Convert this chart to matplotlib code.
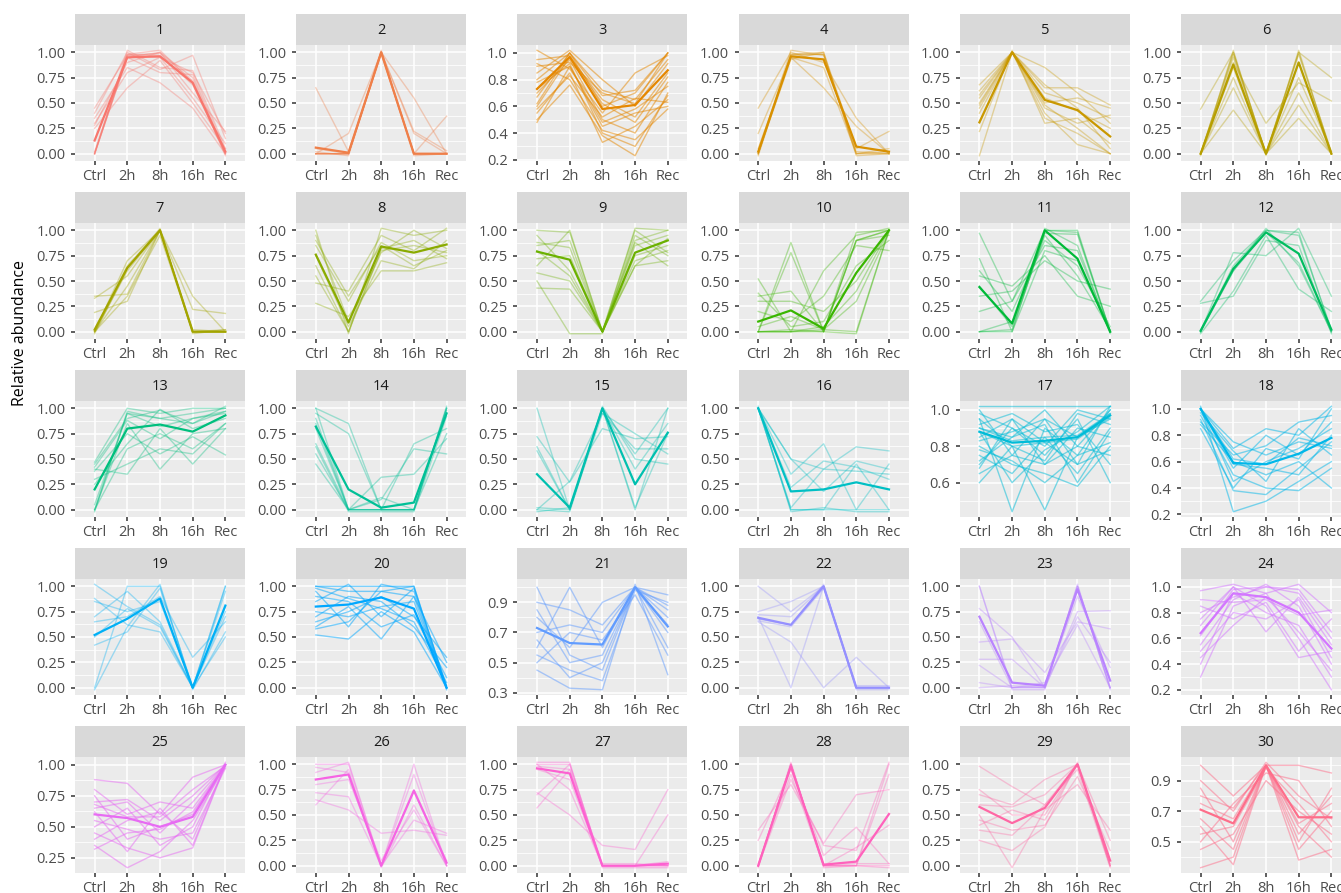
import numpy as np
import matplotlib
matplotlib.use("Agg")
import matplotlib.pyplot as plt

plt.rcParams['font.family'] = ['Open Sans', 'DejaVu Sans']

timepoints = ["Ctrl", "2h", "8h", "16h", "Rec"]

# bold (cluster centre) profile of every cluster
cluster_means = [
    [0.13, 0.95, 0.96, 0.70, 0.02],
    [0.06, 0.01, 1.00, 0.00, 0.00],
    [0.73, 0.97, 0.58, 0.61, 0.87],
    [0.02, 0.96, 0.93, 0.07, 0.02],
    [0.31, 1.00, 0.53, 0.43, 0.17],
    [0.00, 0.88, 0.00, 0.90, 0.00],
    [0.02, 0.63, 1.00, 0.00, 0.00],
    [0.76, 0.09, 0.84, 0.78, 0.86],
    [0.79, 0.71, 0.00, 0.78, 0.90],
    [0.10, 0.21, 0.03, 0.58, 1.00],
    [0.44, 0.08, 1.00, 0.72, 0.00],
    [0.01, 0.62, 0.98, 0.77, 0.02],
    [0.20, 0.80, 0.84, 0.77, 0.93],
    [0.82, 0.20, 0.02, 0.07, 0.95],
    [0.35, 0.02, 1.00, 0.25, 0.76],
    [1.00, 0.18, 0.20, 0.27, 0.20],
    [0.88, 0.82, 0.83, 0.85, 0.97],
    [1.00, 0.59, 0.58, 0.66, 0.78],
    [0.52, 0.68, 0.88, 0.00, 0.81],
    [0.80, 0.82, 0.89, 0.78, 0.00],
    [0.73, 0.63, 0.62, 1.00, 0.74],
    [0.69, 0.62, 1.00, 0.00, 0.00],
    [0.70, 0.05, 0.02, 0.97, 0.07],
    [0.64, 0.95, 0.92, 0.80, 0.52],
    [0.60, 0.57, 0.50, 0.58, 1.00],
    [0.85, 0.90, 0.00, 0.74, 0.03],
    [0.96, 0.91, 0.00, 0.00, 0.02],
    [0.00, 0.98, 0.01, 0.04, 0.51],
    [0.58, 0.42, 0.57, 1.00, 0.05],
    [0.71, 0.62, 1.00, 0.66, 0.66],
]

# individual gene profiles per cluster
g1 = [[0.00, 0.97, 0.99, 0.72, -0.02], [0.00, 0.98, 1.02, 0.70, 0.00], [0.45, 0.97, 0.95, 0.80, 0.20],
      [0.30, 0.80, 0.95, 0.55, 0.10], [0.25, 0.65, 0.92, 0.50, 0.05], [0.40, 1.00, 0.83, 0.97, 0.15],
      [0.00, 0.95, 1.00, 0.75, 0.00], [0.02, 0.98, 0.97, 0.68, 0.00], [0.35, 0.85, 0.70, 0.45, 0.00],
      [0.00, 1.02, 0.85, 0.82, 0.05], [0.28, 0.90, 1.00, 0.60, 0.22], [0.00, 0.95, 0.80, 0.78, 0.02]]
g2 = [[0.65, 0.02, 1.00, 0.00, 0.00], [0.00, 0.20, 1.00, 0.20, 0.00], [0.00, 0.00, 1.00, 0.55, 0.00],
      [0.00, 0.00, 1.00, 0.00, 0.37], [0.05, 0.00, 1.00, 0.22, 0.03], [0.00, 0.00, 1.02, 0.00, 0.00],
      [0.00, 0.00, 1.00, 0.00, 0.00], [0.02, -0.02, 1.00, -0.02, 0.00], [0.00, 0.00, 0.98, 0.00, 0.00]]
g3 = [[0.48, 0.90, 0.45, 0.55, 0.60], [0.55, 0.85, 0.33, 0.45, 0.65], [0.62, 1.00, 0.60, 0.70, 1.00],
      [0.70, 0.95, 0.50, 0.40, 0.78], [0.80, 1.00, 0.72, 0.65, 0.95], [0.90, 0.93, 0.70, 0.62, 1.00],
      [1.02, 0.88, 0.55, 0.85, 0.98], [0.92, 0.80, 0.42, 0.35, 0.58], [0.50, 0.76, 0.38, 0.23, 0.70],
      [0.60, 0.97, 0.65, 0.52, 0.85], [0.85, 1.02, 0.80, 0.60, 0.92], [0.78, 0.90, 0.48, 0.58, 0.75],
      [0.67, 1.00, 0.68, 0.72, 1.00], [0.95, 0.98, 0.62, 0.48, 0.82], [0.58, 0.83, 0.52, 0.66, 0.63],
      [0.73, 0.92, 0.40, 0.30, 0.68]]
g4 = [[0.00, 0.97, 0.98, 0.00, 0.00], [-0.02, 0.98, 1.00, -0.02, 0.00], [0.45, 1.00, 0.90, 0.35, 0.00],
      [0.20, 0.95, 0.65, 0.27, 0.00], [0.00, 0.93, 1.00, 0.05, 0.22], [0.00, 1.02, 0.97, 0.00, 0.05],
      [0.00, 0.98, 0.98, 0.02, 0.00], [0.05, 0.95, 0.85, 0.00, 0.02]]
g5 = [[0.58, 1.00, 0.85, 0.60, 0.30], [0.68, 1.00, 0.65, 0.65, 0.48], [0.45, 1.00, 0.48, 0.25, 0.00],
      [-0.02, 1.00, 0.40, 0.09, 0.00], [0.22, 1.02, 0.30, 0.35, 0.10], [0.50, 1.00, 0.60, 0.50, 0.35],
      [0.40, 1.00, 0.50, 0.55, 0.45], [0.62, 1.00, 0.55, 0.42, 0.25], [0.30, 1.00, 0.35, 0.20, 0.00],
      [0.48, 1.00, 0.45, 0.30, 0.38], [0.55, 1.00, 0.68, 0.45, 0.05]]
g6 = [[0.00, 1.00, 0.00, 1.00, 0.00], [-0.02, 1.02, -0.02, 1.02, 0.00], [0.00, 0.98, 0.00, 0.98, 0.02],
      [0.44, 1.00, 0.00, 1.00, 0.75], [0.00, 0.90, 0.30, 0.70, 0.52], [0.00, 0.65, 0.00, 0.60, 0.00],
      [0.00, 0.43, 0.00, 0.35, 0.00], [0.00, 0.85, 0.00, 0.48, 0.00], [0.00, 0.95, 0.00, 0.75, 0.02],
      [0.00, 0.75, 0.00, 0.90, 0.00]]
g7 = [[0.00, 0.65, 1.00, 0.00, 0.00], [0.00, 0.60, 1.00, 0.00, 0.00], [-0.02, 0.62, 1.02, -0.02, 0.02],
      [0.35, 0.37, 1.00, 0.35, 0.00], [0.19, 0.30, 1.00, 0.22, 0.18], [0.00, 0.45, 1.00, 0.00, 0.00],
      [0.00, 0.70, 1.00, 0.02, 0.00], [0.33, 0.55, 1.00, 0.00, 0.00], [0.00, 0.35, 0.95, 0.00, 0.02]]
g8 = [[1.00, -0.02, 1.02, 0.95, 1.00], [0.90, 0.35, 0.85, 0.65, 0.80], [0.65, 0.00, 0.82, 0.90, 0.72],
      [0.28, 0.15, 0.60, 0.60, 0.68], [0.48, 0.40, 0.95, 0.80, 1.02], [0.55, 0.00, 0.80, 0.85, 0.78],
      [0.85, 0.30, 0.88, 0.70, 0.75], [0.75, 0.05, 0.70, 0.62, 0.90], [0.95, 0.10, 0.78, 1.00, 0.82]]
g9 = [[1.00, 0.98, 0.00, 1.02, 1.00], [0.88, 0.83, 0.00, 0.85, 0.95], [0.43, 0.42, 0.00, 0.65, 0.70],
      [0.50, -0.02, -0.02, 0.95, 0.75], [0.65, 1.00, 0.00, 0.70, 0.80], [0.95, 0.60, 0.00, 0.90, 1.00],
      [0.72, 0.75, 0.00, 0.75, 0.85], [0.58, 0.50, 0.00, 0.88, 0.65], [0.85, 0.90, 0.00, 0.65, 0.92],
      [0.80, 0.55, 0.00, 1.00, 0.78]]
g10 = [[0.00, 0.88, 0.00, 0.90, 1.00], [0.00, 0.78, 0.00, 0.98, 1.00], [0.52, 0.00, 0.05, 0.40, 1.00],
       [0.35, 0.40, 0.00, 0.90, 0.95], [0.00, 0.00, 0.00, -0.02, 1.00], [0.00, 0.00, 0.02, 0.00, 1.00],
       [0.20, 0.10, 0.35, 0.85, 0.80], [0.30, 0.30, 0.20, 0.50, 1.00], [0.00, 0.02, 0.00, 0.90, 1.00],
       [0.05, 0.15, 0.02, 0.30, 0.98], [0.38, 0.05, 0.10, 0.65, 0.90], [0.00, 0.00, 0.60, 0.95, 1.02]]
g11 = [[0.97, 0.30, 1.00, 1.00, 0.00], [0.72, 0.00, 1.00, 0.98, 0.00], [0.00, 0.02, 0.97, 0.96, 0.00],
       [0.00, 0.00, 0.80, 0.70, 0.00], [0.55, 0.45, 0.75, 0.35, 0.25], [0.35, 0.40, 0.70, 0.50, 0.42],
       [0.60, 0.20, 0.90, 0.65, 0.05], [0.20, 0.30, 0.85, 0.80, 0.00], [0.45, 0.05, 0.95, 0.55, 0.02],
       [0.00, 0.10, 1.02, 0.85, -0.02]]
g12 = [[0.30, 0.70, 1.00, 0.98, 0.00], [0.00, 0.60, 0.98, 0.68, 0.00], [0.00, 0.78, 0.75, 1.02, 0.35],
       [-0.02, 0.40, 0.95, 0.42, 0.20], [0.00, 0.65, 1.00, 0.95, 0.02], [0.28, 0.35, 0.90, 0.85, -0.02],
       [0.00, 0.60, 1.02, 0.65, 0.00]]
g13 = [[0.47, 1.00, 0.95, 1.00, 1.00], [0.45, 0.90, 0.98, 0.85, 1.02], [-0.02, 0.97, 0.90, 0.95, 1.00],
       [0.00, 0.85, 0.40, 0.75, 0.80], [0.40, 0.35, 0.80, 0.45, 0.80], [0.30, 0.45, 0.60, 0.55, 0.85],
       [0.00, 0.95, 0.82, 0.90, 0.95], [0.38, 0.75, 0.55, 0.72, 0.54], [0.25, 0.65, 0.99, 0.80, 0.90],
       [0.00, 0.60, 0.75, 0.60, 0.85], [0.42, 0.88, 0.70, 0.90, 0.97], [0.05, 0.95, 0.90, 0.85, 0.97]]
g14 = [[1.00, 0.85, 0.00, 0.00, 1.00], [0.95, 0.75, 0.00, 0.00, 1.00], [0.45, 0.00, 0.00, 0.00, 1.02],
       [0.62, -0.02, -0.02, -0.02, 0.92], [0.80, 0.00, 0.00, 0.00, 1.00], [0.85, 0.00, 0.32, 0.35, 0.70],
       [0.65, 0.00, 0.10, 0.60, 0.55], [0.90, 0.00, 0.00, 0.65, 0.80], [0.55, 0.00, 0.12, 0.00, 0.75],
       [1.00, 0.00, 0.00, 0.00, 0.98]]
g15 = [[1.00, 0.00, 1.00, 0.00, 1.00], [0.72, 0.27, 0.80, 0.70, 0.72], [0.62, 0.00, 1.02, 0.50, 0.45],
       [0.00, -0.02, 1.00, 0.40, 0.85], [0.00, 0.28, 0.95, 0.75, 0.55], [0.02, 0.00, 1.00, 0.55, 1.00],
       [0.58, 0.00, 0.95, 0.60, 0.60], [-0.02, 0.02, 1.00, 0.02, 0.75]]
g16 = [[1.00, 0.00, 0.00, 0.00, 0.00], [1.02, -0.02, 0.02, -0.02, -0.02], [1.00, 0.50, 0.40, 0.62, 0.58],
       [1.00, 0.35, 0.65, 0.00, 0.45], [1.00, 0.22, 0.48, 0.42, 0.30], [1.00, 0.02, 0.40, 0.38, 0.35],
       [1.00, 0.50, 0.18, 0.48, 0.40], [1.00, 0.00, 0.00, 0.45, 0.00]]
g17 = [[1.02, 1.02, 1.02, 1.02, 1.02], [0.60, 0.80, 0.45, 0.85, 0.95], [0.95, 0.44, 0.90, 0.75, 1.00],
       [0.80, 0.70, 0.65, 0.58, 0.80], [0.70, 0.90, 0.75, 0.95, 0.60], [1.00, 0.75, 0.95, 0.70, 1.02],
       [0.85, 0.95, 0.70, 0.90, 0.85], [0.75, 0.65, 0.85, 0.65, 0.90], [0.90, 0.85, 1.00, 0.80, 0.75],
       [0.65, 0.75, 0.70, 0.80, 1.00], [0.98, 0.90, 0.80, 1.00, 0.95], [0.72, 0.85, 0.92, 0.60, 0.88],
       [0.88, 0.60, 0.78, 0.88, 1.02], [0.92, 0.98, 0.88, 0.92, 0.70], [0.78, 0.72, 0.60, 0.75, 0.82],
       [0.83, 0.88, 0.95, 0.85, 0.98], [0.95, 0.80, 0.72, 0.98, 0.92], [0.68, 0.95, 0.82, 0.70, 0.78],
       [0.88, 0.80, 0.82, 0.84, 0.96], [0.90, 0.83, 0.85, 0.86, 0.98]]
g18 = [[1.02, 0.22, 0.30, 0.45, 0.60], [1.00, 0.70, 0.85, 0.80, 1.02], [0.95, 0.50, 0.40, 0.38, 0.55],
       [0.90, 0.65, 0.72, 0.90, 0.95], [1.00, 0.45, 0.60, 0.70, 0.85], [0.88, 0.60, 0.50, 0.60, 0.40],
       [1.00, 0.75, 0.65, 0.75, 0.70], [0.92, 0.38, 0.35, 0.55, 0.75], [1.00, 0.55, 0.80, 0.65, 0.90],
       [0.97, 0.68, 0.45, 0.85, 0.65], [1.00, 0.58, 0.55, 0.50, 0.80], [0.85, 0.40, 0.70, 0.62, 1.00],
       [1.00, 0.62, 0.58, 0.78, 0.72]]
g19 = [[1.02, 0.80, 0.62, 0.00, 1.00], [0.00, 1.00, 1.00, 0.00, 0.70], [-0.02, 0.60, 1.02, -0.02, 0.55],
       [0.88, 0.62, 0.55, 0.00, 0.50], [0.70, 0.95, 0.65, 0.00, 1.00], [0.42, 0.55, 0.98, 0.00, 0.75],
       [0.65, 0.70, 0.90, 0.30, 0.65], [0.50, 0.78, 0.60, 0.00, 0.95], [0.85, 0.75, 0.85, 0.00, 0.80]]
g20 = [[1.00, 1.00, 1.00, 1.00, 0.00], [0.52, 0.48, 0.75, 0.55, 0.00], [0.60, 0.80, 0.48, 0.90, 0.25],
       [0.95, 0.60, 1.02, 0.95, -0.02], [0.70, 0.90, 0.85, 0.60, 0.20], [0.85, 1.02, 0.70, 0.98, 0.02],
       [0.65, 0.75, 0.90, 0.70, 0.30], [1.00, 0.95, 0.95, 1.00, 0.00], [0.75, 0.70, 0.80, 0.85, 0.00],
       [0.90, 0.85, 0.60, 0.72, 0.10], [0.58, 0.65, 0.95, 0.90, 0.00], [0.98, 0.88, 0.78, 0.65, 0.05]]
g21 = [[1.00, 0.55, 0.45, 1.00, 0.85], [0.45, 0.33, 0.32, 1.02, 0.42], [0.90, 0.85, 0.75, 1.00, 0.95],
       [0.60, 1.00, 0.60, 1.00, 0.70], [0.80, 0.60, 0.90, 1.00, 0.60], [0.55, 0.45, 0.38, 0.98, 0.90],
       [0.70, 0.75, 0.70, 1.00, 0.80], [0.85, 0.50, 0.55, 1.00, 0.75], [0.50, 0.70, 0.65, 0.95, 0.55],
       [0.65, 0.40, 0.50, 1.00, 0.88]]
g22 = [[1.00, 0.75, 1.00, 0.00, 0.00], [0.70, 0.00, 1.00, 0.00, 0.00], [0.75, 0.85, 1.00, 0.00, 0.00],
       [0.65, 0.45, 0.00, 0.30, 0.00], [0.68, 0.62, 1.00, 0.00, 0.00], [0.68, 0.62, 1.02, -0.02, -0.02],
       [0.72, 0.70, 1.00, 0.02, 0.02], [0.66, 0.60, 0.98, 0.00, 0.00]]
g23 = [[1.00, 0.00, 0.00, 1.00, 0.00], [1.00, -0.02, -0.02, 1.02, -0.02], [0.78, 0.50, 0.00, 0.75, 0.76],
       [0.45, 0.48, 0.15, 0.65, 0.58], [0.28, 0.28, 0.00, 0.70, 0.25], [0.22, 0.00, 0.05, 0.62, 0.00],
       [0.00, 0.02, 0.00, 1.00, 0.00], [0.05, 0.00, 0.02, 0.90, 0.20], [0.65, 0.00, 0.00, 1.00, 0.00]]
g24 = [[0.97, 1.02, 0.95, 1.02, 0.80], [0.30, 0.85, 0.95, 0.60, 0.20], [0.55, 0.90, 1.02, 0.85, 0.40],
       [0.75, 1.00, 0.65, 0.92, 0.55], [0.85, 0.75, 0.88, 0.50, 0.75], [0.40, 0.95, 0.80, 0.70, 0.30],
       [0.62, 0.98, 1.00, 0.95, 0.60], [0.90, 0.88, 0.90, 0.78, 0.82], [0.70, 1.00, 0.85, 0.45, 0.50],
       [0.50, 0.80, 0.75, 0.90, 0.45], [0.80, 0.92, 1.00, 0.98, 0.65], [0.45, 0.70, 0.92, 0.65, 0.35]]
g25 = [[0.88, 0.85, 0.60, 0.90, 1.00], [0.35, 0.17, 0.30, 0.55, 0.98], [0.70, 0.72, 0.55, 0.75, 1.00],
       [0.45, 0.33, 0.25, 0.33, 1.00], [0.80, 0.60, 0.70, 0.65, 1.00], [0.55, 0.48, 0.40, 0.45, 0.97],
       [0.65, 0.70, 0.45, 0.70, 1.00], [0.40, 0.55, 0.62, 0.40, 1.00], [0.75, 0.40, 0.50, 0.60, 1.00],
       [0.50, 0.65, 0.35, 0.50, 1.02], [0.62, 0.30, 0.65, 0.35, 1.00], [0.68, 0.58, 0.58, 0.80, 0.99],
       [0.32, 0.45, 0.48, 0.62, 1.00]]
g26 = [[1.00, 1.00, 0.00, 1.00, 0.00], [0.97, 0.92, 0.00, 0.90, 0.00], [0.65, 0.55, 0.32, 0.35, 0.30],
       [0.60, 0.95, -0.02, 0.60, 0.00], [0.72, 0.68, 0.00, 0.45, 0.32], [0.92, 1.02, 0.00, 0.75, 0.05],
       [0.80, 0.85, 0.05, 0.55, 0.00]]
g27 = [[1.00, 1.00, 0.00, 0.00, 0.00], [1.02, 1.02, -0.02, -0.02, -0.02], [0.57, 0.95, 0.00, 0.00, 0.00],
       [0.72, 0.50, 0.20, 0.16, 0.75], [0.70, 1.00, 0.00, 0.00, 0.50], [0.95, 0.85, 0.00, 0.00, 0.04],
       [1.00, 0.75, 0.00, 0.00, 0.00], [0.98, 0.95, 0.02, 0.02, 0.00]]
g28 = [[0.00, 1.00, 0.00, 0.00, 0.00], [-0.02, 1.02, -0.02, 0.00, -0.02], [0.00, 1.00, 0.00, 0.00, 1.00],
       [0.35, 0.80, 0.22, 0.70, 0.75], [0.00, 0.85, 0.20, 0.15, 1.02], [0.25, 0.95, 0.10, 0.38, 0.02],
       [0.00, 1.00, 0.00, 0.00, 0.90], [0.02, 0.90, 0.00, 0.02, 0.02], [0.00, 1.00, 0.00, 0.18, 0.40]]
g29 = [[0.98, 0.78, 0.60, 1.00, 0.00], [0.25, 0.15, 0.38, 1.02, 0.00], [0.50, -0.02, 0.55, 0.80, 0.35],
       [0.70, 0.60, 0.85, 1.00, 0.00], [0.40, 0.55, 0.45, 1.00, 0.25], [0.35, 0.30, 0.60, 0.95, -0.02],
       [0.60, 0.58, 0.70, 1.00, 0.02], [0.45, 0.35, 0.40, 0.88, 0.15], [0.75, 0.50, 0.50, 1.00, 0.00]]
g30 = [[1.00, 0.80, 1.00, 1.00, 0.95], [0.33, 0.40, 1.00, 0.38, 0.45], [0.85, 0.50, 1.00, 0.55, 0.80],
       [0.50, 0.75, 0.95, 0.90, 0.60], [0.60, 0.35, 1.00, 0.60, 0.40], [0.75, 0.65, 1.00, 0.45, 0.70],
       [0.45, 0.55, 0.90, 0.70, 0.55], [0.90, 0.70, 1.02, 0.80, 0.65], [0.65, 0.45, 1.00, 0.50, 0.85],
       [0.55, 0.60, 0.98, 0.75, 0.50], [0.80, 0.72, 1.00, 0.62, 0.75]]

gene_profiles = [g1, g2, g3, g4, g5, g6, g7, g8, g9, g10, g11, g12, g13, g14, g15,
                 g16, g17, g18, g19, g20, g21, g22, g23, g24, g25, g26, g27, g28, g29, g30]

q = [0.0, 0.25, 0.5, 0.75, 1.0]
t2 = [0.2, 0.4, 0.6, 0.8, 1.0]
cluster_ticks = [q, q, t2, q, q, q,
                 q, q, q, q, q, q,
                 q, q, q, q, [0.6, 0.8, 1.0], t2,
                 q, q, [0.3, 0.5, 0.7, 0.9], q, q, t2,
                 [0.25, 0.5, 0.75, 1.0], q, q, q, q, [0.5, 0.7, 0.9]]

# clusters with many member genes look denser in the original
dense_clusters = [3, 17, 18, 20, 21, 24, 25, 30]


def hue_color(h, c=100.0, l=65.0):
    # ggplot2 hue_pal: polar Luv -> sRGB
    hr = np.radians(h)
    U, V = c * np.cos(hr), c * np.sin(hr)
    Xn, Yn, Zn = 95.047, 100.0, 108.883
    Y = Yn * ((l + 16) / 116) ** 3
    den = Xn + 15 * Yn + 3 * Zn
    u = U / (13 * l) + 4 * Xn / den
    v = V / (13 * l) + 9 * Yn / den
    X = 9.0 * Y * u / (4 * v)
    Z = -X / 3 - 5 * Y + 3 * Y / v
    X, Y, Z = X / 100, Y / 100, Z / 100
    rgb = [3.240479 * X - 1.537150 * Y - 0.498535 * Z,
           -0.969256 * X + 1.875992 * Y + 0.041556 * Z,
           0.055648 * X - 0.204043 * Y + 1.057311 * Z]
    out = []
    for ch in rgb:
        ch = 1.055 * ch ** (1 / 2.4) - 0.055 if ch > 0.0031308 else 12.92 * ch
        out.append(min(max(ch, 0.0), 1.0))
    return tuple(out)


W, H = 1341, 893
fig = plt.figure(figsize=(W / 100, H / 100), dpi=100)

col_x = [75 + 221.2 * i for i in range(6)]
row_top = [14 + 178 * j for j in range(5)]
pw, strip_h, ph = 170, 31, 116

xs = np.arange(len(timepoints))
for k in range(30):
    r, c = divmod(k, 6)
    x0, y0 = col_x[c], row_top[r]
    col = hue_color(15 + 12 * k)

    sax = fig.add_axes([x0 / W, 1 - (y0 + strip_h) / H, pw / W, strip_h / H])
    sax.set_facecolor('#D9D9D9')
    sax.set_xticks([]); sax.set_yticks([])
    for s in sax.spines.values():
        s.set_visible(False)
    sax.text(0.5, 0.48, str(k + 1), ha='center', va='center', fontsize=10.5,
             color='#1A1A1A', transform=sax.transAxes)

    ax = fig.add_axes([x0 / W, 1 - (y0 + strip_h + ph) / H, pw / W, ph / H])
    ax.set_facecolor('#EBEBEB')
    for s in ax.spines.values():
        s.set_visible(False)

    allv = np.array(gene_profiles[k] + [cluster_means[k]])
    lo, hi = allv.min(), allv.max()
    pad = (hi - lo) * 0.05
    ax.set_ylim(lo - pad, hi + pad)
    ax.set_xlim(-0.6, 4.6)

    ticks = cluster_ticks[k]
    step = ticks[1] - ticks[0]
    fmt = '{:.2f}' if abs(step - 0.25) < 1e-9 else '{:.1f}'
    minors = [t - step / 2 for t in ticks] + [ticks[-1] + step / 2]
    minors = [m for m in minors if lo - pad < m < hi + pad]
    for m in minors:
        ax.axhline(m, color='white', lw=0.55, zorder=0.5)
    for t in ticks:
        ax.axhline(t, color='white', lw=1.1, zorder=0.6)
    for xi in xs:
        ax.axvline(xi, color='white', lw=1.1, zorder=0.6)

    a = 0.5 if (k + 1) in dense_clusters else 0.35
    for prof in gene_profiles[k]:
        ax.plot(xs, prof, color=col, alpha=a, lw=1.0, zorder=2)
    ax.plot(xs, cluster_means[k], color=col, lw=1.6, zorder=3)

    ax.set_yticks(ticks)
    ax.set_yticklabels([fmt.format(t) for t in ticks])
    ax.set_xticks(xs)
    ax.set_xticklabels(timepoints)
    ax.tick_params(axis='both', length=2.9, width=1.1, color='#333333',
                   labelsize=10.5, labelcolor='#4D4D4D')
    ax.tick_params(axis='y', pad=4.0)
    ax.tick_params(axis='x', pad=2.5)

fig.text(20 / W, 1 - 333 / H, 'Relative abundance', rotation=90, ha='center',
         va='center', fontsize=11.5, color='black')

fig.savefig('out.png', dpi=100)
